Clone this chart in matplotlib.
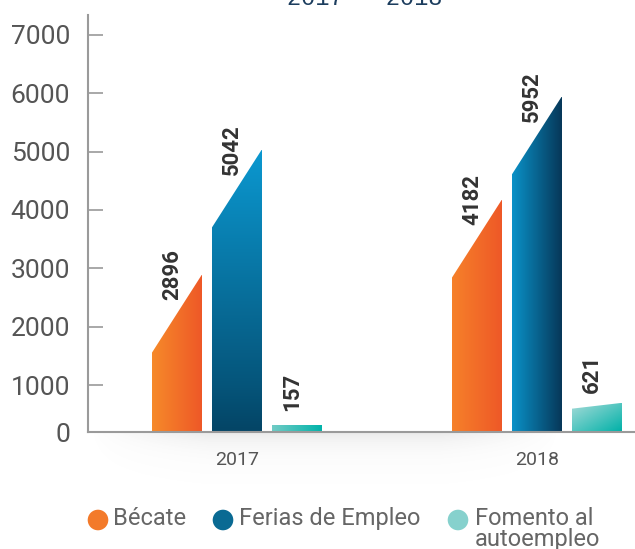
import numpy as np
import matplotlib.pyplot as plt
from matplotlib.colors import to_rgb
from matplotlib.patches import Polygon

# data
years = ['2017', '2018']
series = ['Bécate', 'Ferias de Empleo', 'Fomento al\nautoempleo']
becate = [2896, 4182]
ferias = [5042, 5952]
fomento = [157, 621]
yticks = [0, 1000, 2000, 3000, 4000, 5000, 6000, 7000]

values = [becate, ferias, fomento]
legend_colors = ['#F37A2A', '#0A6A93', '#86D1CD']
# (left/top colour, right/bottom colour, direction) per series and year
grads = {
    (0, 0): ('#F6892A', '#EE5827', 'h'), (0, 1): ('#F6802A', '#EE5827', 'h'),
    (1, 0): ('#0B98D0', '#044566', 'v'), (1, 1): ('#0A90C6', '#063758', 'h'),
    (2, 0): ('#6FCBC5', '#00B3AA', 'h'), (2, 1): ('#A6DBD8', '#00B1A8', 'd'),
}

plt.rcParams['font.family'] = ['Roboto', 'DejaVu Sans']

W, H = 635, 549
fig = plt.figure(figsize=(W / 100, H / 100), dpi=100)
ax = fig.add_axes([88 / W, (H - 432) / H, (W - 88) / W, (432 - 15) / H])

# the original axis squeezes the first 1000 (0 tick sits close to 1000)
k0 = 0.805


def fwd(y):
    y = np.asarray(y, dtype=float)
    return np.where(y < 1000, y * k0, 1000 * k0 + (y - 1000))


def inv(t):
    t = np.asarray(t, dtype=float)
    return np.where(t < 1000 * k0, t / k0, (t - 1000 * k0) + 1000)


ax.set_yscale('function', functions=(fwd, inv))


def gradient(c1, c2, mode, n=64):
    a, b = np.array(to_rgb(c1)), np.array(to_rgb(c2))
    gx, gy = np.meshgrid(np.linspace(0, 1, n), np.linspace(0, 1, n))
    if mode == 'h':
        t = gx
    elif mode == 'v':
        t = gy          # row 0 is top
    else:
        t = (gx + gy) / 2
    return a + (b - a) * t[..., None]


width, step = 0.1667, 0.2
for i, name in enumerate(series):
    for j, v in enumerate(values[i]):
        xc = j + (i - 1) * step
        x0, x1 = xc - width / 2, xc + width / 2
        if v > 2000:
            drop = 1340
        elif v > 500:
            drop = 0.2 * v
        else:
            drop = 0
        poly = Polygon([(x0, 0), (x1, 0), (x1, v), (x0, v - drop)],
                       closed=True, facecolor='none', edgecolor='none')
        ax.add_patch(poly)
        c1, c2, mode = grads[(i, j)]
        im = ax.imshow(gradient(c1, c2, mode), extent=(x0, x1, 0, v),
                       aspect='auto', interpolation='bilinear', zorder=2)
        im.set_clip_path(poly)
        ax.annotate(str(v), (xc, v - drop / 2), xytext=(-3.5, 9.5),
                    textcoords='offset points', rotation=90, ha='center',
                    va='bottom', fontsize=16, fontweight='bold', color='#333333')

ax.set_xlim(-0.4967, 1.3267)
ax.set_ylim(0, 7342)
ax.set_yticks(yticks)
ax.set_yticklabels([str(t) for t in yticks])
ax.minorticks_off()
ax.set_xticks([0, 1], years)
for s in ['top', 'right']:
    ax.spines[s].set_visible(False)
for s in ['left', 'bottom']:
    ax.spines[s].set_color('#9a9a9a')
    ax.spines[s].set_linewidth(1.5)
ax.tick_params(axis='y', direction='in', length=11, width=1.2, color='#9a9a9a',
               labelsize=19, labelcolor='#555555', pad=13)
ax.tick_params(axis='x', length=0, labelsize=14, labelcolor='#555555', pad=14)

# soft shadow under the baseline
sax = fig.add_axes([90 / W, (H - 492) / H, (560 - 90) / W, 60 / H], zorder=-1)
yy, xx = np.mgrid[0:60, 0:400]
win = np.clip(np.sin(np.pi * xx / 399) * 1.4, 0, 1)
alpha = 0.16 * np.exp(-yy / 14.0) * win
shadow = np.zeros((60, 400, 4))
shadow[..., :3] = 0.45
shadow[..., 3] = alpha
sax.imshow(shadow, aspect='auto', interpolation='bilinear')
sax.axis('off')

# title, mostly cut off at the top edge as in the picture
fig.text(365 / W, 1 - 5 / H, '2017 - 2018', ha='center', va='baseline',
         fontsize=17, color='#1C3D5E', family=['Liberation Mono', 'DejaVu Sans Mono'])

# legend drawn by hand in pixel coordinates
lax = fig.add_axes([0, 0, 1, 70 / H])
lax.set_xlim(0, W)
lax.set_ylim(H, H - 70)
lax.axis('off')
marker_x = [98, 223, 458]
text_x = [113, 239, 475]
for k, name in enumerate(series):
    lax.scatter([marker_x[k]], [520], s=220, color=legend_colors[k], edgecolors='none')
    lax.text(text_x[k], 507, name, ha='left', va='top', fontsize=17,
             color='#666666', linespacing=0.9)

fig.savefig('out.png', dpi=100)
